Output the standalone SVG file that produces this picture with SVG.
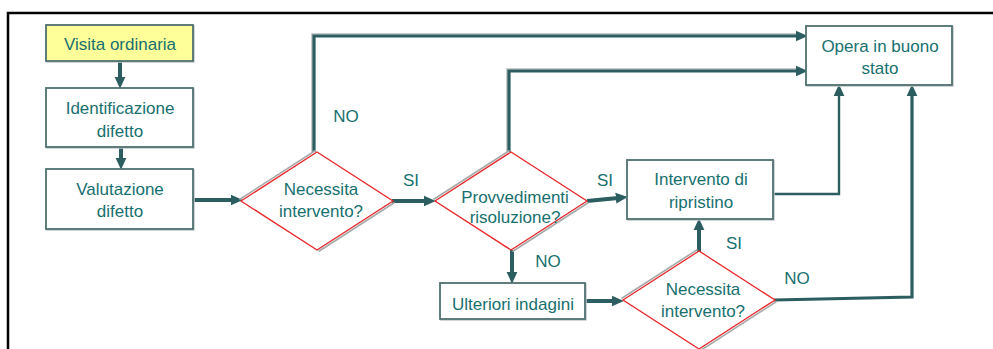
<svg xmlns="http://www.w3.org/2000/svg" xmlns:xlink="http://www.w3.org/1999/xlink" width="993" height="349" viewBox="0 0 993 349">
<style>
.t{font-family:"Liberation Sans",Arial,sans-serif;font-size:17px;fill:#17706f;text-anchor:middle}
.box{fill:#fff;stroke:#4f7070;stroke-width:1.8}
.boxsh{fill:none;stroke:#c4c8c8;stroke-width:1.5}
.c{fill:none;stroke:#2c5e61;stroke-linejoin:miter}
.csh{fill:none;stroke:#b8bcbc}
.w4{stroke-width:4}
.w3{stroke-width:3.2}
.w2{stroke-width:2.4}
</style>
<defs>
<marker id="ah" markerUnits="userSpaceOnUse" markerWidth="12" markerHeight="12" viewBox="0 0 11 10" refX="2" refY="5" orient="auto">
<path d="M0,0 L11,5 L0,10 z" fill="#2c5e61"/>
</marker>
<g id="dia">
<path d="M-77.5,-1.5 L-1.5,-50.5" fill="none" stroke="#a8aaaa" stroke-width="1.6"/>
<path d="M77.5,1.5 L1.5,50.5" fill="none" stroke="#a8aaaa" stroke-width="1.6"/>
<polygon points="-76,0 0,-49 76,0 0,49" fill="#fff" stroke="#e8262a" stroke-width="1.3"/>
</g>
</defs>

<rect x="0" y="0" width="993" height="349" fill="#fff"/>
<path d="M8,349 V13 H993" fill="none" stroke="#000" stroke-width="2.5"/>

<g id="connectors">
<path class="c w4" d="M120,61 V79" marker-end="url(#ah)"/>
<path class="c w4" d="M121,147 V160" marker-end="url(#ah)"/>
<path class="c w4" d="M193,200 H233" marker-end="url(#ah)"/>
<path class="csh" stroke-width="1.5" d="M312,152 V34 H798"/>
<path class="c w3" d="M314,152 V36 H798" marker-end="url(#ah)"/>
<path class="c w4" d="M392,201 H426" marker-end="url(#ah)"/>
<path class="csh" stroke-width="1.5" d="M507,152 V69 H798"/>
<path class="c w3" d="M509,152 V71 H798" marker-end="url(#ah)"/>
<path class="c w4" d="M587,201 L618,197.9" marker-end="url(#ah)"/>
<path class="c w4" d="M512,250 V274" marker-end="url(#ah)"/>
<path class="c w4" d="M585,301 H614" marker-end="url(#ah)"/>
<path class="c w4" d="M699,252 V228" marker-end="url(#ah)"/>
<path class="c w2" d="M773,194 H839 V94" marker-end="url(#ah)"/>
<path class="c w3" d="M774,300 L912,297 V94" marker-end="url(#ah)"/>
</g>

<g id="visita">
<rect class="boxsh" x="47" y="26" width="147" height="36"/>
<rect class="box" x="46" y="25" width="147" height="36" style="fill:#ffff99"/>
<text class="t" x="120" y="50">Visita ordinaria</text>
</g>

<g id="identificazione">
<rect class="boxsh" x="47" y="89" width="147" height="59"/>
<rect class="box" x="46" y="88" width="147" height="59"/>
<text class="t" x="120" y="114">Identificazione</text>
<text class="t" x="120" y="137">difetto</text>
</g>

<g id="valutazione">
<rect class="boxsh" x="47" y="170" width="147" height="60"/>
<rect class="box" x="46" y="169" width="147" height="60"/>
<text class="t" x="120" y="195">Valutazione</text>
<text class="t" x="120" y="217">difetto</text>
</g>

<g id="necessita1">
<use xlink:href="#dia" x="317" y="201"/>
<text class="t" x="321" y="195">Necessita</text>
<text class="t" x="321" y="217">intervento?</text>
</g>

<g id="provvedimenti">
<use xlink:href="#dia" x="511" y="201"/>
<text class="t" x="515" y="203">Provvedimenti</text>
<text class="t" x="515" y="223">risoluzione?</text>
</g>

<g id="opera">
<rect class="boxsh" x="807" y="27" width="146" height="59"/>
<rect class="box" x="806" y="26" width="146" height="59"/>
<text class="t" x="880" y="52">Opera in buono</text>
<text class="t" x="880" y="74">stato</text>
</g>

<g id="intervento">
<rect class="boxsh" x="628" y="161" width="146" height="59"/>
<rect class="box" x="627" y="160" width="146" height="59"/>
<text class="t" x="701" y="185">Intervento di</text>
<text class="t" x="701" y="208">ripristino</text>
</g>

<g id="ulteriori">
<rect class="boxsh" x="441" y="284" width="145" height="36"/>
<rect class="box" x="440" y="283" width="145" height="36"/>
<text class="t" x="513" y="310">Ulteriori indagini</text>
</g>

<g id="necessita2">
<use xlink:href="#dia" x="699" y="300"/>
<text class="t" x="703" y="295">Necessita</text>
<text class="t" x="703" y="317">intervento?</text>
</g>

<g id="labels">
<text class="t" x="346" y="122">NO</text>
<text class="t" x="411" y="186">SI</text>
<text class="t" x="605" y="186">SI</text>
<text class="t" x="548" y="267">NO</text>
<text class="t" x="734" y="249">SI</text>
<text class="t" x="797" y="284">NO</text>
</g>
</svg>
